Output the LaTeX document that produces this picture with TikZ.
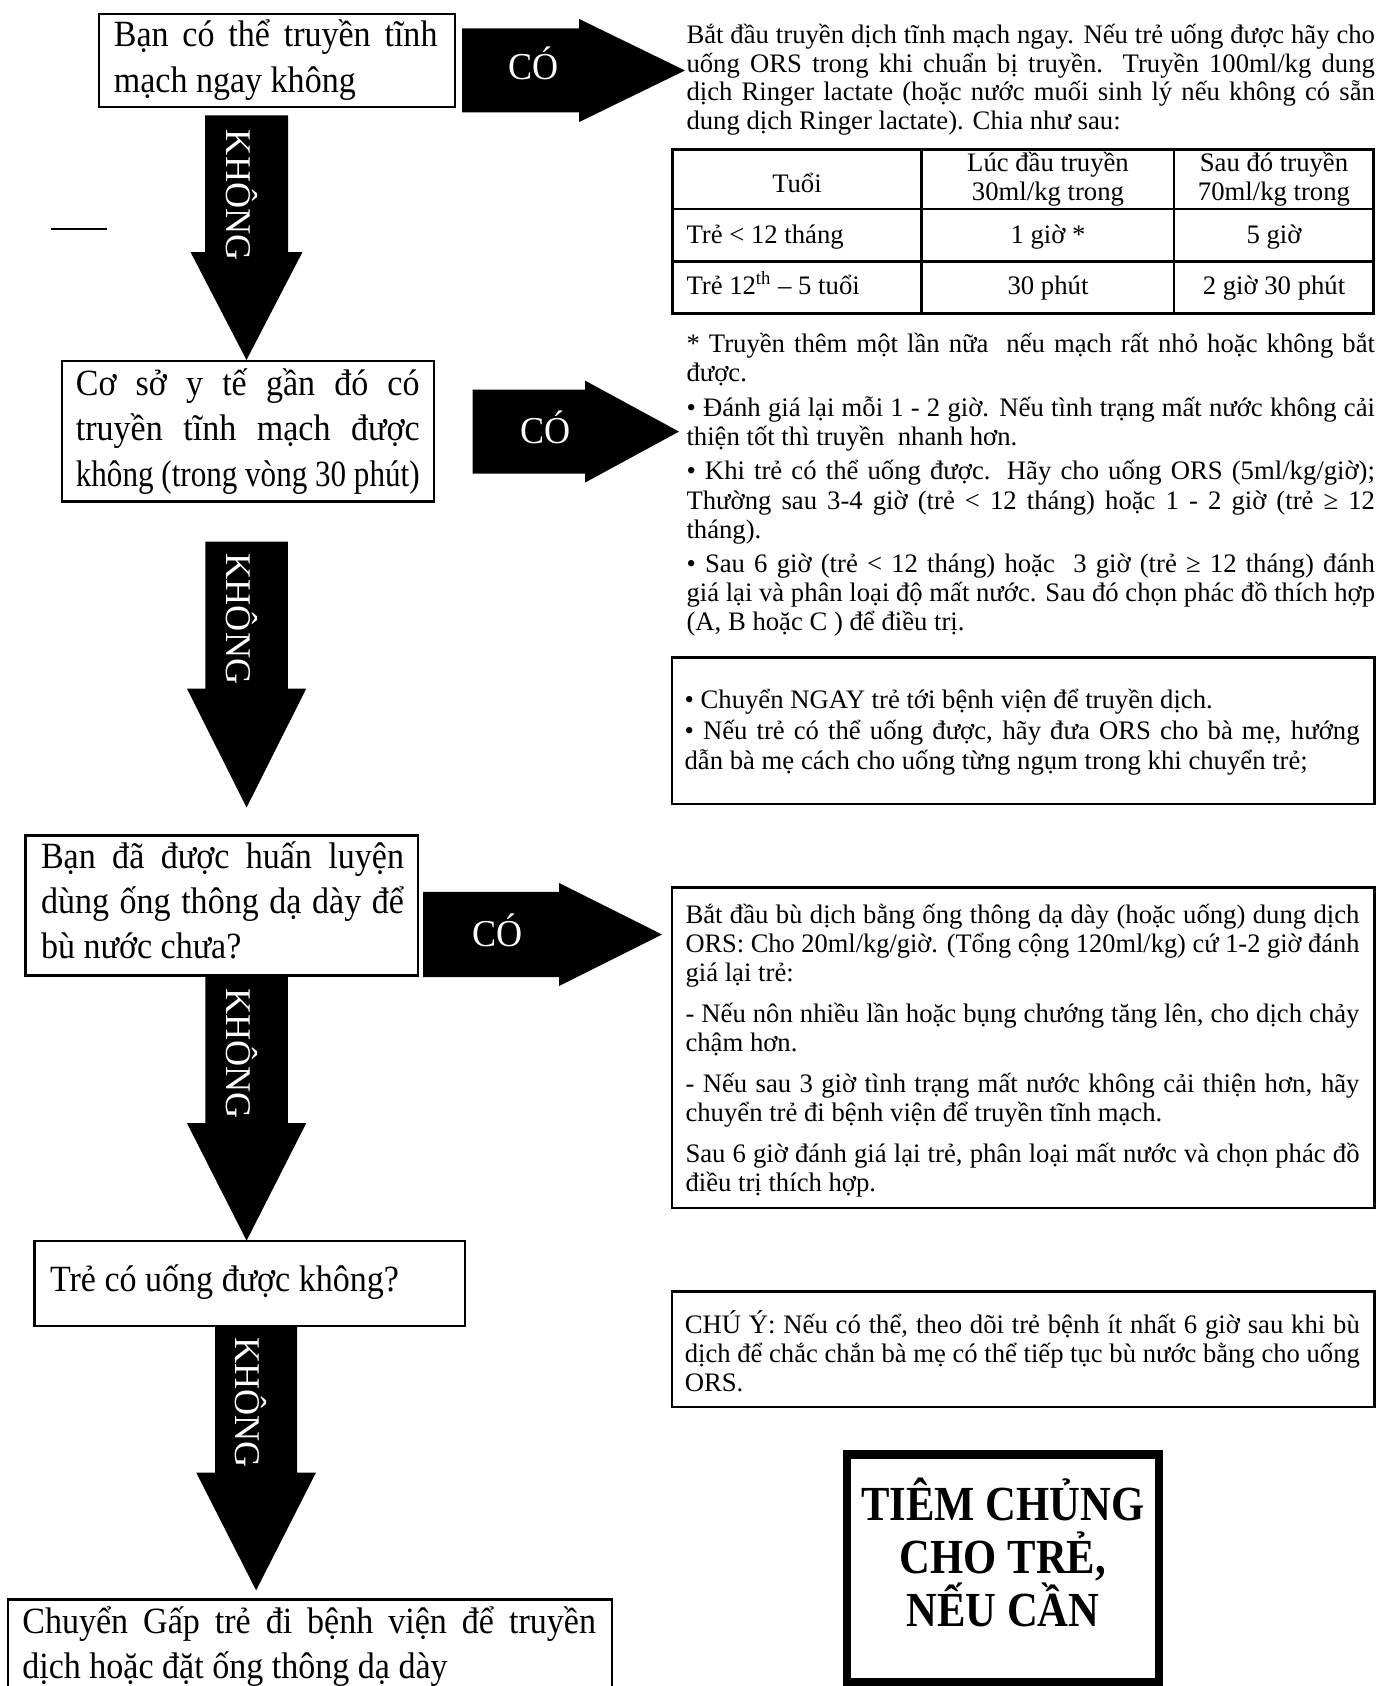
\documentclass[tikz,border=0pt]{standalone}
\usepackage{fontspec}
\setmainfont{Liberation Serif}
\newfontfamily\myplainserif{Liberation Serif}
\newfontfamily\myLfam{Liberation Serif}[FakeStretch=0.92]
\newfontfamily\myCOfam{Liberation Serif}[FakeStretch=0.95]
\newfontfamily\myTfam{Liberation Serif}[FakeStretch=0.87]
\usepackage{graphicx}
\newlength\upx
\setlength\upx{0.5pt}
\newsavebox\myjlbox
\newcommand\myjl[1]{\leavevmode\sbox\myjlbox{#1}\ifdim\wd\myjlbox>\linewidth\resizebox{\linewidth}{\height}{#1}\else\makebox[\linewidth][s]{#1}\fi}
\newcommand\myskip[1]{\baselineskip=#1\upx\lineskiplimit=-100pt\lineskip=0pt\relax}
\newcommand\myLfont{\myLfam\fontsize{18.5pt}{22pt}\selectfont}
\newcommand\myRfont{\fontsize{13.35pt}{15pt}\selectfont}
\newcommand\myCOfont{\myCOfam\fontsize{19pt}{21pt}\selectfont}
\newcommand\myKfont{\myplainserif\fontsize{18.1pt}{20pt}\selectfont}
\newcommand\myTfont{\myTfam\bfseries\fontsize{24.5pt}{27pt}\selectfont}
\newcommand\mydnarrow[6]{\fill[black] (#1-#5,#2) -- (#1+#5,#2) -- (#1+#5,#3) -- (#1+#6,#3) -- (#1,#4) -- (#1-#6,#3) -- (#1-#5,#3) -- cycle;}
\newcommand\myrtarrow[6]{\fill[black] (#1,#4-#5) -- (#2,#4-#5) -- (#2,#4-#6) -- (#3,#4) -- (#2,#4+#6) -- (#2,#4+#5) -- (#1,#4+#5) -- cycle;}
\begin{document}
\begin{tikzpicture}[x=0.5pt,y=-0.5pt,
  box/.style={draw, line width=2.2\upx, inner sep=0pt, outer sep=0pt, anchor=north west},
  txt/.style={anchor=base west, inner sep=0pt, outer sep=0pt},
  ctxt/.style={anchor=base, inner sep=0pt, outer sep=0pt},
  lbl/.style={anchor=base, inner sep=0pt, text=white, font=\myCOfont},
  vlbl/.style={rotate=-90, anchor=base west, inner sep=0pt, text=white, font=\myKfont}]
\fill[white] (0,0) rectangle (1380,1686);
\useasboundingbox (0,0) rectangle (1380,1686);

% ---------- left column boxes ----------
\node[box, minimum width=356\upx, minimum height=93.3\upx] (q1) at (99,14) {};
\node[txt] (q1t) at (113.8,46.5) {\parbox[t]{323.7\upx}{\myLfont\myskip{46}\myjl{Bạn có thể truyền tĩnh}\\mạch ngay không}};

\node[box, minimum width=372.4\upx, minimum height=140.1\upx] (q2) at (61.6,361.3) {};
\node[txt] (q2t) at (75.9,395) {\parbox[t]{343.7\upx}{\myLfont\myskip{45.8}\myjl{Cơ sở y tế gần đó có}\\\myjl{truyền tĩnh mạch được}\\\myjl{không (trong vòng 30 phút)}}};

\node[box, minimum width=392.9\upx, minimum height=139.9\upx] (q3) at (25.4,835.5) {};
\node[txt] (q3t) at (41,868.5) {\parbox[t]{363\upx}{\myLfont\myskip{45}\myjl{Bạn đã được huấn luyện}\\\myjl{dùng ống thông dạ dày để}\\bù nước chưa?}};

\node[box, minimum width=430.8\upx, minimum height=85.1\upx] (q4) at (34.4,1240.7) {};
\node[txt] (q4t) at (50,1291) {\myLfont Trẻ có uống được không?};

\node[box, minimum width=604\upx, minimum height=90\upx] (q5) at (7.6,1599.4) {};
\node[txt] (q5t) at (22.3,1633) {\parbox[t]{573.7\upx}{\myLfont\myskip{45}\myjl{Chuyển Gấp trẻ đi bệnh viện để truyền}\\dịch hoặc đặt ống thông dạ dày}};

\draw[line width=2.2\upx] (51,229.3) -- (107.2,229.3);

% ---------- right column ----------
\node[txt] (r1t) at (686.5,43.5) {\parbox[t]{688.5\upx}{\myRfont\myskip{28.7}%
\myjl{Bắt đầu truyền dịch tĩnh mạch ngay. Nếu trẻ uống được hãy cho}\\
\myjl{uống ORS trong khi chuẩn bị truyền. Truyền 100ml/kg dung}\\
\myjl{dịch Ringer lactate (hoặc nước muối sinh lý nếu không có sẵn}\\
dung dịch Ringer lactate). Chia như sau:}};

\node[box, minimum width=701\upx, minimum height=163.9\upx] (tbl) at (672.5,149.5) {};
\draw[line width=2.2\upx] (672.5,208.8) -- (1373.5,208.8) (672.5,261.5) -- (1373.5,261.5)
  (921.5,149.5) -- (921.5,313.4) (1174,149.5) -- (1174,313.4);
\node[ctxt] (c11) at (797,192) {\myRfont Tuổi};
\node[ctxt] (c12) at (1048,171.5) {\parbox[t]{240\upx}{\centering\myRfont\myskip{28.5}Lúc đầu truyền\\30ml/kg trong}};
\node[ctxt] (c13) at (1274,171.5) {\parbox[t]{190\upx}{\centering\myRfont\myskip{28.5}Sau đó truyền\\70ml/kg trong}};
\node[txt] (c21) at (686.5,243.5) {\myRfont Trẻ < 12 tháng};
\node[ctxt] (c22) at (1048,243.5) {\myRfont 1 giờ *};
\node[ctxt] (c23) at (1274,243.5) {\myRfont 5 giờ};
\node[txt] (c31) at (686.5,294.5) {\myRfont Trẻ 12\textsuperscript{th} – 5 tuổi};
\node[ctxt] (c32) at (1048,294.5) {\myRfont 30 phút};
\node[ctxt] (c33) at (1274,294.5) {\myRfont 2 giờ 30 phút};

\node[txt] (r2t) at (686.5,352.5) {\parbox[t]{688.5\upx}{\myRfont\myskip{29.1}%
\myjl{* Truyền thêm một lần nữa\ \ nếu mạch rất nhỏ hoặc không bắt}\\
được.\\[5.5\upx]
\myjl{• Đánh giá lại mỗi 1 - 2 giờ. Nếu tình trạng mất nước không cải}\\
thiện tốt thì truyền\ \ nhanh hơn.\\[5.5\upx]
\myjl{• Khi trẻ có thể uống được. Hãy cho uống ORS (5ml/kg/giờ);}\\
\myjl{Thường sau 3-4 giờ (trẻ < 12 tháng) hoặc 1 - 2 giờ (trẻ ≥ 12}\\
tháng).\\[5.5\upx]
\myjl{• Sau 6 giờ (trẻ < 12 tháng) hoặc\ \ 3 giờ (trẻ ≥ 12 tháng) đánh}\\
\myjl{giá lại và phân loại độ mất nước. Sau đó chọn phác đồ thích hợp}\\
(A, B hoặc C ) để điều trị.}};

\node[box, minimum width=702.5\upx, minimum height=146.5\upx] (ref) at (672,657.5) {};
\node[txt] (reft) at (684.6,708.5) {\parbox[t]{675\upx}{\myRfont\myskip{30.5}%
• Chuyển NGAY trẻ tới bệnh viện để truyền dịch.\\
\myjl{• Nếu trẻ có thể uống được, hãy đưa ORS cho bà mẹ, hướng}\\
dẫn bà mẹ cách cho uống từng ngụm trong khi chuyển trẻ;}};

\node[box, minimum width=702.5\upx, minimum height=320.6\upx] (ng) at (672,887.4) {};
\node[txt] (ngt) at (685.5,923.5) {\parbox[t]{674\upx}{\myRfont\myskip{29}%
\myjl{Bắt đầu bù dịch bằng ống thông dạ dày (hoặc uống) dung dịch}\\
\myjl{ORS: Cho 20ml/kg/giờ. (Tổng cộng 120ml/kg) cứ 1-2 giờ đánh}\\
giá lại trẻ:\\[12\upx]
\myjl{- Nếu nôn nhiều lần hoặc bụng chướng tăng lên, cho dịch chảy}\\
chậm hơn.\\[12\upx]
\myjl{- Nếu sau 3 giờ tình trạng mất nước không cải thiện hơn, hãy}\\
chuyển trẻ đi bệnh viện để truyền tĩnh mạch.\\[12\upx]
\myjl{Sau 6 giờ đánh giá lại trẻ, phân loại mất nước và chọn phác đồ}\\
điều trị thích hợp.}};

\node[box, minimum width=702.5\upx, minimum height=115.5\upx] (note) at (672,1291.5) {};
\node[txt] (notet) at (684.8,1333.5) {\parbox[t]{675\upx}{\myRfont\myskip{28.75}%
\myjl{CHÚ Ý: Nếu có thể, theo dõi trẻ bệnh ít nhất 6 giờ sau khi bù}\\
\myjl{dịch để chắc chắn bà mẹ có thể tiếp tục bù nước bằng cho uống}\\
ORS.}};

\node[draw, line width=8.5\upx, inner sep=0pt, outer sep=0pt, anchor=north west,
  minimum width=312\upx, minimum height=227.3\upx] (vac) at (847,1454.7) {};
\node[ctxt] (vact) at (1003,1520) {\parbox[t]{300\upx}{\centering\myTfont\myskip{53}TIÊM CHỦNG\\CHO TRẺ,\\NẾU CẦN}};

% ---------- block arrows ----------
\myrtarrow{462}{579}{685}{70.5}{42}{51.6}
\node[lbl] (co1) at (533.8,80) {CÓ};
\myrtarrow{472.6}{585}{679}{431.6}{41.9}{51}
\node[lbl] (co2) at (545.7,443) {CÓ};
\myrtarrow{423.2}{559}{662}{934.5}{42.6}{51.6}
\node[lbl] (co3) at (497.7,946) {CÓ};

\mydnarrow{246.5}{115.5}{252}{360}{41.5}{56}
\node[vlbl] (k1) at (226,129.5) {KHÔNG};
\mydnarrow{246.6}{541.7}{688.5}{807.5}{41.3}{59.7}
\node[vlbl] (k2) at (226,553.3) {KHÔNG};
\mydnarrow{246.6}{975.4}{1123}{1240.7}{41.3}{59.7}
\node[vlbl] (k3) at (226,988) {KHÔNG};
\mydnarrow{256.1}{1325.8}{1472.7}{1590.4}{40.9}{59.8}
\node[vlbl] (k4) at (235,1337) {KHÔNG};
\end{tikzpicture}
\end{document}
